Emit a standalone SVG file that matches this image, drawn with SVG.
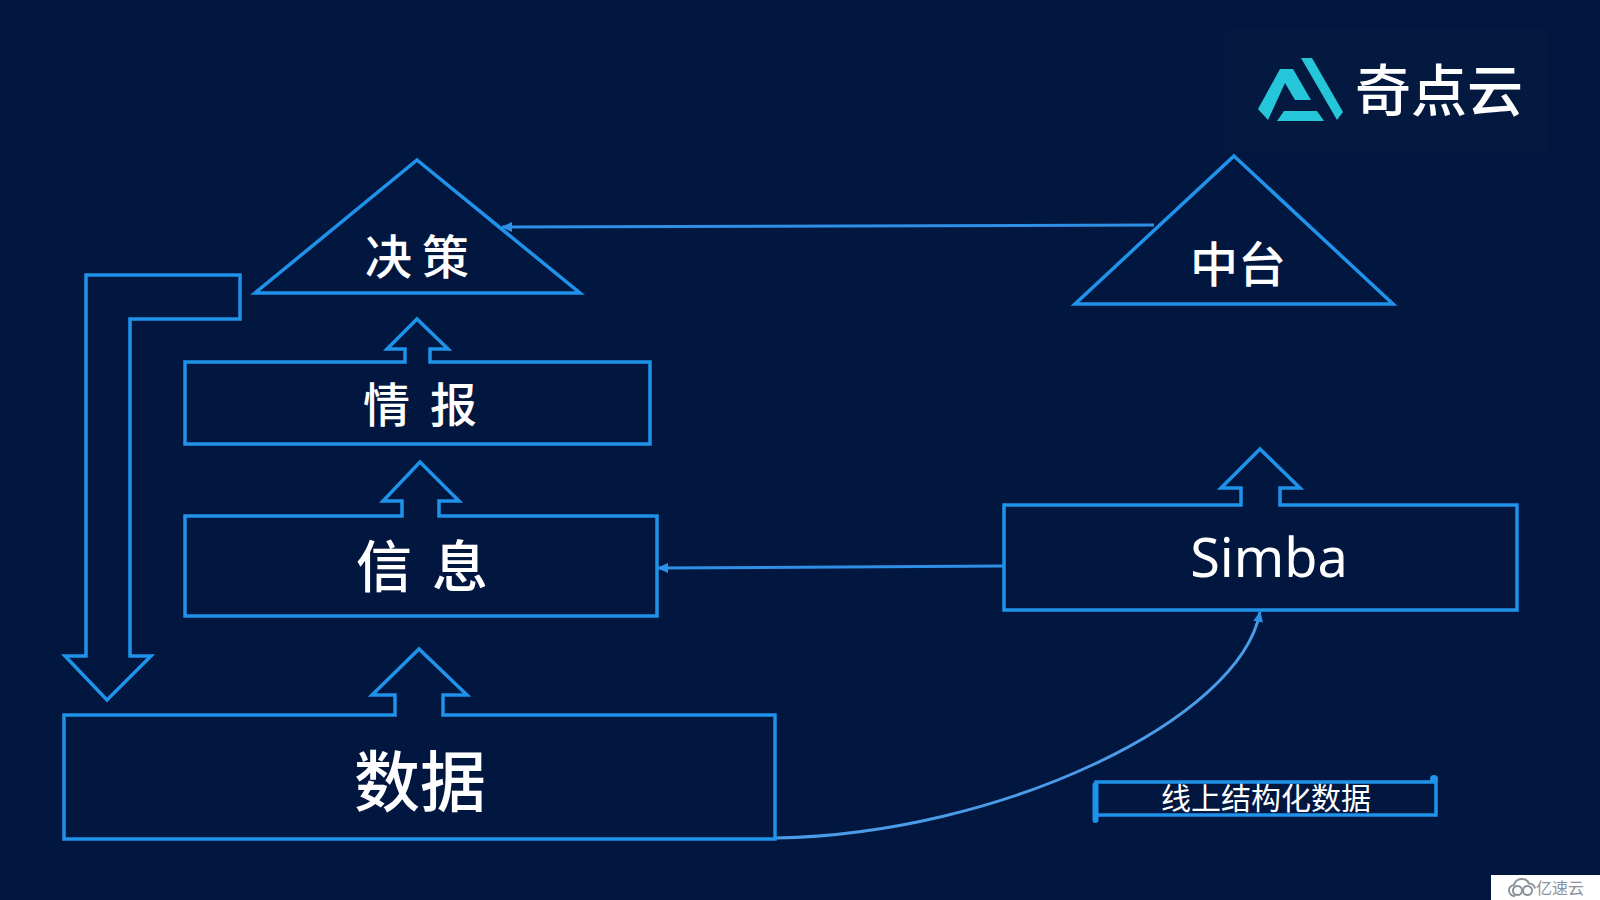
<svg xmlns="http://www.w3.org/2000/svg" width="1600" height="900" viewBox="0 0 1600 900">
<style>
.s{fill:none;stroke:#1f92ea;stroke-width:3.5;stroke-linejoin:miter}
.c{fill:none;stroke:#2f8fe6;stroke-width:3}
.t{fill:#fff;font-family:"Noto Sans CJK SC","Noto Sans",sans-serif;text-anchor:middle;font-weight:500}
</style>
<defs><marker id="a" markerUnits="userSpaceOnUse" markerWidth="12" markerHeight="10" refX="10" refY="5" orient="auto"><path d="M0 0L11 5L0 10Z" fill="#2f8fe6"/></marker></defs>
<rect width="1600" height="900" fill="#02173f"/>
<g id="logo">
<rect x="1225" y="30" width="324" height="122" fill="#04193f"/>
<path d="M1258 109L1280 69H1293L1311 100H1295L1285 83L1268 120Z" fill="#26c6da"/>
<path d="M1301 58L1312 58L1343 112L1337 120Z" fill="#26c6da"/>
<path d="M1277 121L1284 111H1317L1324 121Z" fill="#26c6da"/>
<text x="1439" y="111" class="t" font-size="56" font-weight="500">奇点云</text>
</g>
<g id="connectors">
<path class="c" d="M1154 225L502 227" marker-end="url(#a)"/>
<path class="c" d="M1004 566L658 568" marker-end="url(#a)"/>
<path class="c" d="M776 838C1000 834 1240 720 1260 612" style="stroke:#4a9be8" marker-end="url(#a)"/>
</g>
<g id="juece"><path class="s" d="M417 160L580 293H255Z"/><text class="t" x="422" y="274" font-size="47" letter-spacing="10">决策</text></g>
<g id="zhongtai"><path class="s" d="M1234 156L1393 304H1075Z"/><text class="t" x="1238" y="282" font-size="48">中台</text></g>
<g id="qingbao"><path class="s" d="M185 362H405V349H387L417 319L448 349H430V362H650V444H185Z"/><text class="t" x="430" y="422" font-size="47" letter-spacing="20">情报</text></g>
<g id="xinxi"><path class="s" d="M185 516H402V501H383L420 462L459 501H439V516H657V616H185Z"/><text class="t" x="432" y="587" font-size="56" letter-spacing="20">信息</text></g>
<g id="shuju"><path class="s" d="M64 715H395V695H372L419 649L467 695H443V715H775V839H64Z"/><text class="t" x="420" y="806" font-size="66">数据</text></g>
<g id="simba"><path class="s" d="M1004 505H1241V488H1221L1260 449L1300 488H1280V505H1517V610H1004Z"/><text class="t" x="1269" y="577" font-size="54" style="font-family:'Noto Sans',sans-serif;font-weight:400">Simba</text></g>
<g id="feedback"><path class="s" d="M86 275H240V319H130V656H151L107 700L65 656H86Z"/></g>
<g id="label"><path class="s" d="M1096 782H1436V815H1096Z"/><path d="M1095.500 785V820" stroke="#1f92ea" stroke-width="6" stroke-linecap="round" fill="none"/><circle cx="1434" cy="779" r="4" fill="#1f92ea"/><text class="t" x="1266" y="809" font-size="30" style="font-weight:400">线上结构化数据</text></g>
<g id="watermark"><rect x="1491" y="875" width="109" height="25" fill="#fff"/><text x="1560" y="894" font-size="16" fill="#8a929c" font-family="Noto Sans CJK SC,sans-serif" text-anchor="middle">亿速云</text><g fill="none" stroke="#8a929c" stroke-width="2"><path d="M1515 896a5.500 5.500 0 0 1-1-11a8 8 0 0 1 15-1.500a6 6 0 0 1 6 5"/><circle cx="1517.500" cy="890.500" r="4.500"/><circle cx="1527.500" cy="890.500" r="4.500"/></g></g>
</svg>
